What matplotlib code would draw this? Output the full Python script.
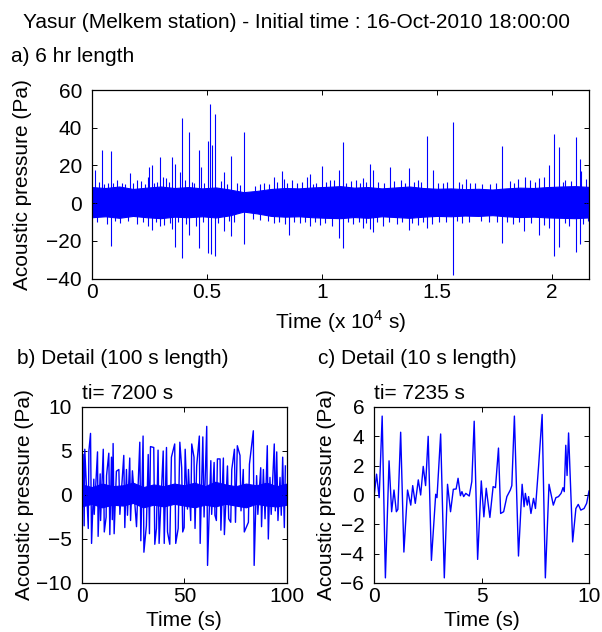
import numpy as np
import matplotlib
matplotlib.use("Agg")
import matplotlib.pyplot as plt

BLUE = "#0000FF"

plt.rcParams['font.family'] = ['Liberation Sans', 'DejaVu Sans']
plt.rcParams['font.size'] = 15
plt.rcParams['mathtext.fontset'] = 'custom'
plt.rcParams['mathtext.rm'] = 'Liberation Sans'

# --- a) 6 hr record: noise envelope (every 600 s) and the individual spikes
env_t = [0, 600, 1200, 1800, 2400, 3000, 3600, 4200, 4800, 5400, 6000, 6600, 7200,
         7800, 8400, 9000, 9600, 10200, 10800, 11400, 12000, 12600, 13200, 13800,
         14400, 15000, 15600, 16200, 16800, 17400, 18000, 18600, 19200, 19800,
         20400, 21000, 21600]
env_hi = [8.5, 8.0, 8.8, 7.5, 8.2, 8.8, 8.0, 8.5, 7.8, 8.3, 7.2, 5.8, 6.5,
          7.5, 8.0, 7.8, 8.3, 8.6, 9.0, 8.2, 8.5, 7.8, 8.3, 8.8,
          8.0, 7.6, 7.8, 7.4, 7.6, 7.2, 7.8, 8.2, 8.0, 8.5, 8.8, 9.0, 8.6]
env_lo = [-7.5, -7.0, -7.8, -6.8, -7.5, -8.0, -7.2, -7.5, -7.0, -7.6, -6.5, -4.5, -5.5,
          -6.8, -7.2, -7.0, -7.5, -7.8, -8.0, -7.4, -7.8, -7.0, -7.4, -7.8,
          -7.2, -6.8, -7.0, -6.6, -6.8, -6.4, -7.0, -7.4, -7.2, -7.6, -7.8, -8.0, -7.6]

up_t = [148, 300, 452, 520, 700, 843, 950, 1100, 1300, 1450, 1669, 1800, 1985, 2150,
        2300, 2435, 2478, 2608, 2700, 2850, 2970, 3117, 3233, 3350, 3508, 3624, 3827,
        3914, 4050, 4218, 4350, 4450, 4682, 4740, 4900, 5073, 5131, 5218, 5363, 5600,
        5769, 5900, 6059, 6300, 6450, 6638, 7100, 7300, 7500, 7700, 7942, 8050, 8276,
        8334, 8500, 8700, 8900, 9150, 9348, 9464, 9600, 9750, 9999, 10200, 10350,
        10505, 10723, 10912, 11050, 11250, 11500, 11650, 11765, 11900, 12069, 12216,
        12450, 12700, 12969, 13150, 13450, 13600, 13781, 14000, 14155, 14300, 14577,
        14824, 15050, 15250, 15450, 15675, 15950, 16100, 16271, 16450, 16650, 16950,
        17300, 17550, 17823, 18150, 18350, 18518, 18805, 19050, 19250, 19414, 19661,
        19865, 20083, 20300, 20450, 20550, 20800, 21022, 21195, 21269, 21450]
up_v = [17.7, 11, 28.3, 10, 10.5, 27.4, 10.5, 12, 10.5, 10, 15.9, 10.5, 12.4, 11.5,
        10, 14.1, 19.1, 20.3, 10.5, 11, 24.4, 13.8, 13.3, 11, 24.4, 20.9, 16.3,
        45.1, 12, 37.7, 11, 10.5, 28.3, 19.1, 10.5, 33.1, 52.5, 30.9, 47.2, 11.5,
        16.3, 10, 25.1, 10.5, 9.5, 37.7, 9, 10, 10.5, 10, 14.1, 11, 17.2,
        12.7, 10.5, 12, 10.5, 11, 14.1, 15.6, 10, 10.5, 19.5, 11, 12.5,
        12.4, 17.7, 32.4, 10.5, 11.5, 12, 10.5, 13.1, 11, 20.7, 17.7,
        11, 10.5, 19.1, 11.5, 12, 10.5, 18.6, 11, 12.4, 11, 35.4,
        17.3, 10.5, 10.5, 11, 43.0, 11, 10, 12.9, 10.5, 10.5, 10,
        10, 10.5, 30.1, 11.5, 10.5, 12.9, 13.8, 12, 11, 13.3, 14.1,
        20.3, 36.8, 29.7, 11, 12.5, 11.5, 35.0, 23.3, 16.8, 13]
dn_t = [250, 650, 843, 1000, 1250, 1600, 1950, 2250, 2464, 2608, 2800, 2970, 3150,
        3400, 3508, 3624, 3750, 3914, 4100, 4218, 4550, 4682, 4850, 5073, 5189, 5363,
        5500, 5769, 5950, 6059, 6200, 6638, 7000, 7300, 7650, 7900, 8150, 8400, 8551,
        8800, 9050, 9250, 9464, 9700, 9900, 10150, 10450, 10723, 10912, 11150, 11350,
        11600, 11765, 11900, 12069, 12216, 12400, 12650, 12900, 13250, 13500, 13781,
        13900, 14155, 14400, 14577, 14800, 15100, 15400, 15675, 15850, 16100, 16400,
        16900, 17250, 17600, 17823, 18050, 18300, 18550, 18790, 19100, 19414, 19650,
        19865, 20083, 20300, 20550, 20750, 21022, 21195, 21350, 21560]
dn_v = [-10, -11, -22.5, -9.5, -10.5, -9.5, -11, -10, -12.4, -14.1, -10, -12.0, -11.5,
        -10.5, -13.8, -23.5, -10, -29.2, -11, -16.8, -12, -23.9, -10, -26.5, -26.9, -28.3,
        -10.5, -15.0, -9.5, -17.7, -10, -21.8, -8.5, -9, -9.5, -10.5, -10, -11, -16.8,
        -10, -10.5, -10, -12.4, -10, -11.5, -10.5, -12, -18.6, -23.9, -10, -11,
        -10, -13.3, -10.5, -13.8, -15.4, -10, -12, -10, -11, -10, -14.5,
        -10.5, -11.8, -10, -13.3, -11, -10, -10, -38.4, -9.5, -10.5, -10,
        -9.5, -10, -10, -21.2, -10, -11, -10, -15.0, -10.5, -16.8, -11.5,
        -13.3, -28.3, -23.3, -10.5, -12, -26.0, -21.8, -11, -9.7]

# --- b) 100 s detail starting at 7200 s
b_pos_t = [0.7, 1.5, 3.5, 4.3, 5.9, 7.7, 9.0, 10.5, 12.1, 13.2, 14.5, 15.3, 16.9, 18.1,
           20.5, 21.8, 23.4, 24.7, 28.3, 29.9, 32.4, 33.5, 35.1, 37.2, 39.7, 41.3,
           43.7, 45.3, 47.8, 48.7, 50.4, 52.0, 53.6, 54.7, 56.0, 57.3, 59.0, 60.9,
           62.9, 64.5, 66.1, 67.4, 69.0, 71.0, 73.1, 74.4, 75.8, 77.1, 78.7, 81.7,
           83.6, 85.2, 87.2, 88.5, 90.4, 91.7, 93.8, 95.0, 96.6, 97.9, 99.2]
b_pos_v = [4.6, 5.2, 5.0, 7.0, 1.8, 4.9, 2.4, 5.2, 2.2, 4.75, 4.3, 5.85, 2.7, 2.9,
           4.5, 2.9, 4.2, 2.75, 6.0, 6.7, 4.6, 5.5, 5.4, 5.1, 5.0, 5.4,
           4.3, 5.8, 6.0, 3.1, 5.2, 2.9, 5.8, 4.3, 3.3, 6.7, 6.6, 7.8,
           3.9, 3.7, 4.1, 4.1, 4.2, 3.3, 2.9, 5.2, 5.6, 4.5, 2.9, 3.5,
           7.3, 2.2, 3.1, 2.9, 5.6, 2.0, 5.8, 4.9, 2.0, 4.3, 3.3]
b_neg_t = [1.2, 3.2, 4.8, 6.1, 8.0, 9.2, 11.0, 11.9, 13.7, 14.9, 15.8, 18.6, 21.0,
           22.3, 23.8, 26.7, 28.8, 30.3, 31.5, 33.0, 35.6, 36.4, 37.7, 40.2, 41.8,
           42.9, 45.8, 47.0, 49.2, 49.9, 51.5, 53.1, 55.2, 57.7, 59.6, 61.3, 63.3,
           64.9, 65.6, 67.8, 69.5, 71.6, 72.6, 74.9, 77.6, 79.2, 81.2, 84.0, 85.8,
           87.6, 89.3, 90.9, 92.3, 94.3, 95.6, 97.2, 98.7]
b_neg_v = [-3.5, -3.8, -5.5, -2.2, -4.7, -2.9, -4.2, -2.5, -4.5, -2.8, -4.4, -2.2, -3.7,
           -2.3, -2.9, -3.6, -5.2, -6.5, -3.5, -4.4, -5.6, -3.8, -5.5, -5.5, -4.2,
           -5.6, -5.5, -3.8, -4.2, -3.7, -1.6, -2.9, -3.8, -5.5, -2.5, -8.0, -2.2,
           -2.3, -2.9, -4.0, -4.5, -2.7, -3.1, -3.1, -1.8, -4.2, -3.1, -8.0, -2.2,
           -3.6, -2.7, -5.0, -2.2, -1.8, -2.9, -2.3, -3.7]
b_env_t = [0, 5, 10, 15, 20, 25, 30, 35, 40, 45, 50, 55, 60, 65, 70, 75, 80, 85, 90, 95, 100]
b_env_hi = [1.2, 0.9, 1.3, 1.0, 1.1, 1.4, 0.9, 1.2, 1.0, 1.3, 1.1, 1.4, 1.0, 1.5, 1.2,
            1.0, 1.3, 1.1, 1.4, 1.0, 1.3]
b_env_lo = [-1.3, -1.0, -1.4, -1.1, -1.2, -0.9, -1.4, -1.1, -1.3, -1.0, -1.2, -1.4, -1.1,
            -1.3, -1.0, -1.2, -1.4, -1.0, -1.2, -1.3, -1.1]

# --- c) 10 s detail starting at 7235 s
c_t = [0.00, 0.12, 0.24, 0.38, 0.53, 0.70, 0.82, 0.93, 1.04, 1.11, 1.24, 1.39, 1.56,
       1.71, 1.80, 1.92, 2.06, 2.17, 2.29, 2.40, 2.52, 2.67, 2.87, 2.93, 3.10, 3.27,
       3.42, 3.56, 3.69, 3.82, 3.91, 4.02, 4.09, 4.17, 4.27, 4.43, 4.55, 4.66, 4.82,
       4.99, 5.11, 5.22, 5.39, 5.54, 5.65, 5.79, 5.89, 6.03, 6.18, 6.34, 6.41, 6.53,
       6.72, 6.89, 6.98, 7.04, 7.13, 7.19, 7.30, 7.42, 7.51, 7.66, 7.82, 7.97, 8.14,
       8.34, 8.46, 8.58, 8.70, 8.79, 8.85, 8.92, 8.98, 9.05, 9.24, 9.39, 9.50, 9.62,
       9.77, 9.89, 10.00]
c_v = [-0.11, 1.42, -0.18, 5.38, -5.65, 2.33, -1.14, 0.34, -1.14, -0.98, 4.28, -3.89, 0.34,
       -0.69, 0.64, -0.57, 1.03, 0.0, 1.95, 0.64, 4.00, -4.46, 0.05, -0.18, 4.16, -5.65,
       0.73, -1.14, 0.39, 0.41, 1.14, -0.05, 0.23, -0.11, 0.11, -0.07, 0.92, 5.03, -4.39,
       0.96, -1.49, 0.46, -1.53, 0.57, 0.50, 3.20, -1.26, -1.14, -0.11, 0.34, 0.64, 5.38,
       -4.16, 0.73, -0.80, 0.11, -0.69, -0.11, -1.26, -0.23, -0.92, 2.06, 5.49, -5.65, 0.73,
       -0.69, -0.18, -0.11, 0.11, 0.50, 0.23, 3.39, 1.33, 4.23, -3.20, -0.92, -0.64, -1.03,
       -0.92, -0.57, 0.27]

W, H = 602, 632
fig = plt.figure(figsize=(W / 100, H / 100), dpi=100)


def px_axes(left, top, right, bottom):
    return fig.add_axes([left / W, 1 - bottom / H, (right - left) / W, (bottom - top) / H])


def style(ax):
    ax.tick_params(direction='in', top=True, right=True, length=3.6, width=0.7)
    ax.tick_params(axis='y', pad=7)
    ax.tick_params(axis='x', pad=3)
    for s in ax.spines.values():
        s.set_linewidth(0.9)


# a)
ax1 = px_axes(91.6, 90, 589, 278.5)
ax1.fill_between(env_t, env_lo, env_hi, color=BLUE, lw=0.8)
ax1.vlines(up_t, 0, up_v, color=BLUE, lw=0.8)
ax1.vlines(dn_t, 0, dn_v, color=BLUE, lw=0.8)
ax1.set_xlim(0, 21600)
ax1.set_ylim(-40, 60)
ax1.set_xticks([0, 5000, 10000, 15000, 20000])
ax1.set_xticklabels(['0', '0.5', '1', '1.5', '2'])
ax1.set_yticks([-40, -20, 0, 20, 40, 60])
style(ax1)
ax1.set_xlabel('Time (x 10$^{\\mathregular{4}}$ s)', va='center')
ax1.xaxis.set_label_coords(0.5, -43.5 / 188.5)
ax1.set_ylabel('Acoustic pressure (Pa)', va='center')
ax1.yaxis.set_label_coords(-69 / 497.4, 0.5)

# b)
ax2 = px_axes(81.7, 407, 287, 583)
bt = np.concatenate([b_pos_t, b_neg_t])
bv = np.concatenate([b_pos_v, b_neg_v])
order = np.argsort(bt)
ax2.fill_between(b_env_t, b_env_lo, b_env_hi, color=BLUE, lw=0.8)
ax2.plot(bt[order], bv[order], color=BLUE, lw=1.0)
ax2.set_xlim(0, 100)
ax2.set_ylim(-10, 10)
ax2.set_xticks([0, 50, 100])
ax2.set_yticks([-10, -5, 0, 5, 10])
style(ax2)
ax2.set_xlabel('Time (s)', va='center')
ax2.xaxis.set_label_coords(0.5, -38 / 176)
ax2.set_ylabel('Acoustic pressure (Pa)', va='center')
ax2.yaxis.set_label_coords(-57 / 205.3, 0.5)
ax2.text(0, 1.02, 'ti= 7200 s', transform=ax2.transAxes, ha='left', va='bottom')

# c)
ax3 = px_axes(374, 407, 589, 583)
ax3.plot(c_t, c_v, color=BLUE, lw=1.0)
ax3.set_xlim(0, 10)
ax3.set_ylim(-6, 6)
ax3.set_xticks([0, 5, 10])
ax3.set_yticks([-6, -4, -2, 0, 2, 4, 6])
style(ax3)
ax3.set_xlabel('Time (s)', va='center')
ax3.xaxis.set_label_coords(0.5, -38 / 176)
ax3.set_ylabel('Acoustic pressure (Pa)', va='center')
ax3.yaxis.set_label_coords(-47 / 215, 0.5)
ax3.text(0, 1.02, 'ti= 7235 s', transform=ax3.transAxes, ha='left', va='bottom')

fig.text(23 / W, 1 - 22 / H, 'Yasur (Melkem station) - Initial time : 16-Oct-2010 18:00:00',
         ha='left', va='center')
fig.text(11 / W, 1 - 56 / H, 'a) 6 hr length', ha='left', va='center')
fig.text(17 / W, 1 - 358 / H, 'b) Detail (100 s length)', ha='left', va='center')
fig.text(318 / W, 1 - 358 / H, 'c) Detail (10 s length)', ha='left', va='center')

fig.savefig('out.png', dpi=100)
